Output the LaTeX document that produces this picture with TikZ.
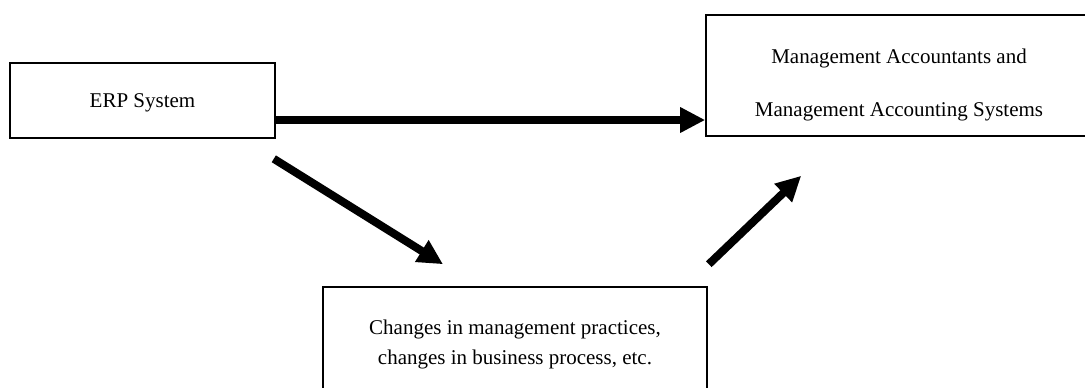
\documentclass[tikz,border=0pt]{standalone}
\usepackage{fontspec}
\setmainfont{Liberation Serif}
\usetikzlibrary{arrows.meta}
\tikzset{
  box/.style={draw, line width=0.8pt, inner sep=0pt, align=center},
  flow/.style={line width=4pt, -{Triangle[length=12.5pt,width=12pt]}}
}
\begin{document}
\begin{tikzpicture}[x=0.5pt,y=-0.5pt,font=\fontsize{10.5}{13}\selectfont]
  \useasboundingbox (0,0) rectangle (1085,387);
  \node[box, minimum width=132.5pt, minimum height=37.5pt, text depth=0pt] (erp) at (142.5,100.5) {ERP System};
  \node[box, minimum width=193pt, minimum height=60.5pt, font=\fontsize{10.5}{26.5}\selectfont] (mas) at (899,75.5)
    {\rule{0pt}{17pt}Management Accountants and\\Management Accounting Systems};
  \node[box, minimum width=192pt, minimum height=56pt, font=\fontsize{10.5}{15}\selectfont] (chg) at (515,343)
    {\rule{0pt}{9pt}Changes in management practices,\\changes in business process, etc.};
  \draw[flow] ([yshift=-9.75pt]erp.east) -- ([yshift=-22.25pt]mas.west);
  \draw[flow] ([shift={(-2,20)}]erp.south east) -- ([shift={(-72,-22)}]chg.north);
  \draw[flow] ([shift={(1,-22)}]chg.north east) -- ([shift={(96,39)}]mas.south west);
\end{tikzpicture}
\end{document}
